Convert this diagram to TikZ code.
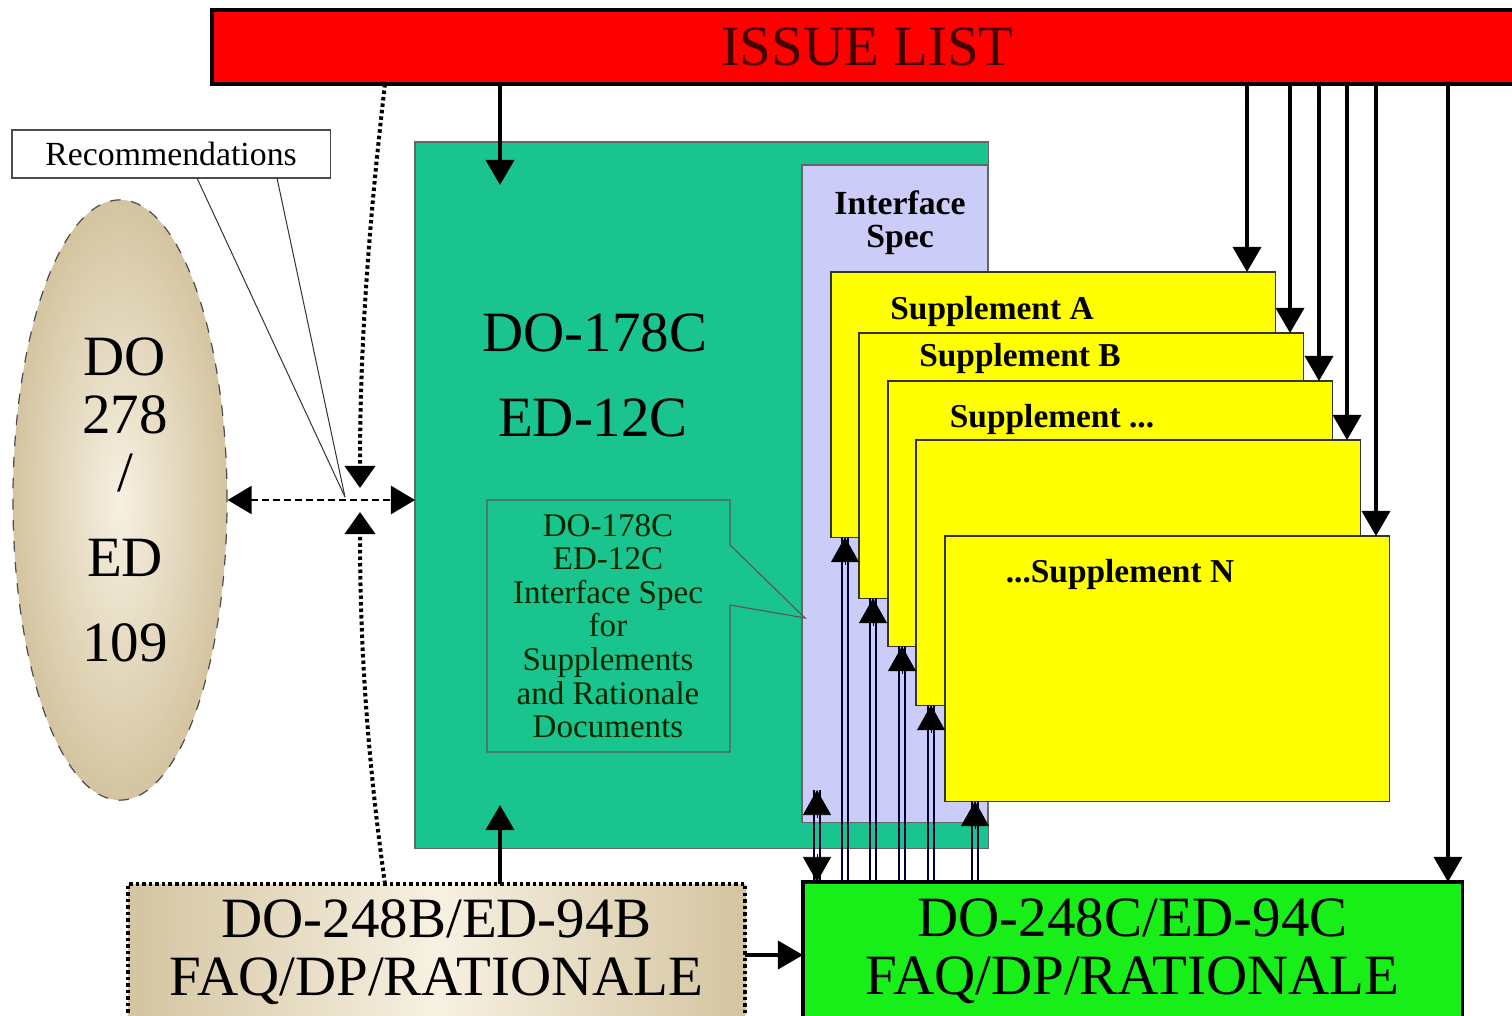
\documentclass[tikz,border=0pt]{standalone}
\usepackage{fontspec}
\setmainfont{Liberation Serif}
\usepackage{xcolor}
\usetikzlibrary{arrows.meta,positioning,shapes.geometric,calc}

\definecolor{issuered}{RGB}{255,0,0}
\definecolor{doteal}{RGB}{26,196,142}
\definecolor{speclav}{RGB}{204,204,248}
\definecolor{supyellow}{RGB}{255,255,0}
\definecolor{faqgreen}{RGB}{24,238,24}
\definecolor{beigeout}{RGB}{212,196,160}
\definecolor{beigein}{RGB}{247,241,226}

\begin{document}
\begin{tikzpicture}[x=0.01cm, y=-0.01cm,
    box/.style={draw, inner sep=0pt, outer sep=0pt, anchor=north west},
    sup/.style={box, fill=supyellow, draw=black!80, line width=0.012cm,
                minimum width=4.44cm, minimum height=2.65cm},
    suptxt/.style={font=\bfseries\fontsize{9.5}{11}\selectfont},
    big/.style={font=\fontsize{16.2}{16.5}\selectfont, align=center},
    arr/.style={-{Triangle[width=0.28cm,length=0.25cm]}, line width=0.035cm},
    darr/.style={{Triangle[width=0.28cm,length=0.24cm]}-{Triangle[width=0.28cm,length=0.24cm]},
                 line width=0.025cm, dash pattern=on 0.07cm off 0.04cm},
    dotarr/.style={-{Triangle[width=0.3cm,length=0.22cm]}, line width=0.04cm,
                   dash pattern=on 0.035cm off 0.03cm},
    twin/.style={line width=0.014cm, draw=black!80!blue},
    hd/.style={-{Triangle[width=0.28cm,length=0.25cm]}, line width=0.2pt},
    pointer/.style={line width=0.01cm, draw=black!80},
  ]
    \useasboundingbox (0,0) rectangle (1512,1015);

    % boxes
    \node[box, fill=issuered, line width=0.035cm, minimum width=13.1cm,
          minimum height=0.74cm, big, text=black!75!red] (issue) at (212,10) {ISSUE LIST};
    \node[box, fill=white, draw=black!70, line width=0.012cm, minimum width=3.18cm,
          minimum height=0.48cm, font=\fontsize{9.6}{11}\selectfont] (rec) at (12,130) {Recommendations};
    \node[ellipse, draw=black!70, dashed, line width=0.012cm, inner color=beigein,
          outer color=beigeout, minimum width=2.14cm, minimum height=6cm, big]
      (ell) at (120,500) {\hspace*{0.1cm}DO\\\hspace*{0.1cm}278\\\hspace*{0.1cm}/\\[7.7pt]\hspace*{0.1cm}ED\\[7.7pt]\hspace*{0.1cm}109};

    \node[box, fill=doteal, draw=black!60, line width=0.015cm, minimum width=5.73cm,
          minimum height=7.06cm] (do178) at (415,142) {};
    \node[box, fill=speclav, draw=black!60, line width=0.015cm, minimum width=1.86cm,
          minimum height=6.57cm] (spec) at (802,165) {};
    \node[align=center, font=\bfseries\fontsize{9.6}{9.4}\selectfont] (spectxt) at (900,223) {Interface\\Spec};

    \foreach \nm/\xx/\yy in {sA/831/272, sB/859/333, sC/888/381, sD/916/440, sN/945/536}
      \node[sup] (\nm) at (\xx,\yy) {};
    \node[suptxt] (tA) at (992,311) {Supplement A};
    \node[suptxt] (tB) at (1020,358) {Supplement B};
    \node[suptxt] (tC) at (1052,419) {Supplement ...};
    \node[suptxt] (tN) at (1120,574) {...Supplement N};

    \node[big] (t178) at (595,333) {DO-178C};
    \node[big] (t12) at (593,418) {ED-12C};

    % callout
    \filldraw[fill=doteal, draw=black!65, line width=0.012cm]
      (487,500) -- (730,500) -- (730,545) -- (805,618) -- (730,605) -- (730,752) -- (487,752) -- cycle;
    \node[align=center, font=\fontsize{9.4}{9.55}\selectfont, text=black!85!green] (note) at (608,626)
      {DO-178C\\ED-12C\\Interface Spec\\for\\Supplements\\and Rationale\\Documents};

    \node[box, line width=0.04cm, dash pattern=on 0.035cm off 0.03cm, left color=beigeout,
          right color=beigeout, middle color=beigein, minimum width=6.17cm,
          minimum height=1.36cm, big] (faqB) at (128,884) {DO-248B/ED-94B\\FAQ/DP/RATIONALE};
    \node[box, fill=faqgreen, line width=0.035cm, minimum width=6.59cm,
          minimum height=1.38cm, big] (faqC) at (803,882) {DO-248C/ED-94C\\FAQ/DP/RATIONALE};

    \coordinate (inTop) at (500,185);
    \coordinate (inBot) at (500,805);
    \coordinate (meet) at (345,497);
    \coordinate (meetTop) at (360,488);
    \coordinate (meetBot) at (360,512);
    \coordinate (specUp) at (817,790);

    % issue list feeds
    \draw[arr] (500,0 |- issue.south) -- (inTop);
    \foreach \xx/\tgt in {1247/sA, 1290/sB, 1319/sC, 1347/sD, 1376/sN, 1448/faqC}
      \draw[arr] (\xx,0 |- issue.south) -- (\xx,0 |- \tgt.north);

    % old FAQ into new ones
    \draw[arr] (500,0 |- faqB.north) -- (inBot);
    \draw[arr] (faqB.east |- 0,955) -- (faqC.west |- 0,955);

    % DO-278 link and the divider
    \draw[darr] (ell.east) -- (do178.west |- ell.east);
    \draw[dotarr] (385,0 |- issue.south) .. controls (362,280) and (360,400) .. (meetTop);
    \draw[dotarr] (385,0 |- faqB.north) .. controls (362,720) and (360,600) .. (meetBot);
    \draw[pointer] (197,0 |- rec.south) -- (meet);
    \draw[pointer] (277,0 |- rec.south) -- (meet);

    % rationale back to the supplements
    \foreach \xx/\tgt in {845/sA, 873/sB, 902/sC, 931/sD, 975/sN}{
      \draw[twin] (\xx-3,0 |- faqC.north) -- (\xx-3,0 |- \tgt.south);
      \draw[twin] (\xx+3,0 |- faqC.north) -- (\xx+3,0 |- \tgt.south);
      \path (\xx,0 |- \tgt.south) coordinate (ht);
      \draw[hd] ($(ht)+(0,28)$) -- (ht);
    }
    \draw[twin] (814,0 |- faqC.north) -- (814,0 |- specUp);
    \draw[twin] (820,0 |- faqC.north) -- (820,0 |- specUp);
    \draw[hd] ($(specUp)+(0,28)$) -- (specUp);
    \draw[hd] ($(817,0 |- faqC.north)+(0,-28)$) -- (817,0 |- faqC.north);
\end{tikzpicture}
\end{document}
